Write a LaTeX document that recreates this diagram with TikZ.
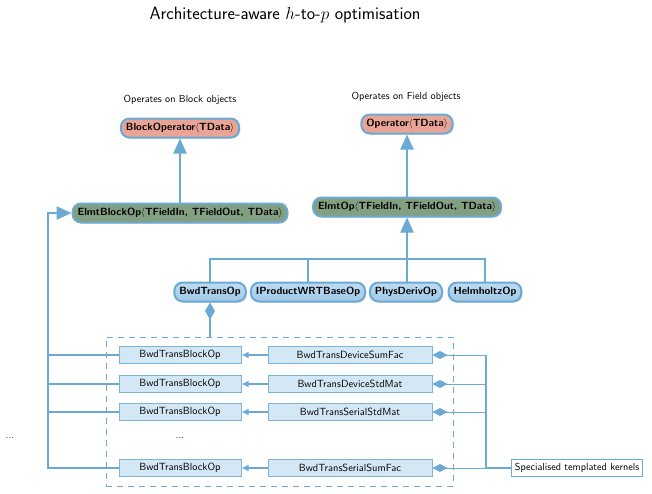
\documentclass[tikz,border=0pt]{standalone}
\usetikzlibrary{arrows.meta,shadows}
\definecolor{lblue}{RGB}{107,170,212}
\definecolor{salm}{RGB}{234,164,150}
\definecolor{grn}{RGB}{131,159,130}
\definecolor{nbluetop}{RGB}{190,220,242}
\definecolor{nbluebot}{RGB}{160,200,230}
\definecolor{bfill}{RGB}{211,231,245}
\definecolor{bdraw}{RGB}{125,180,219}
\tikzset{
  op/.style={draw=lblue, line width=2pt, rounded corners=8.5pt, minimum height=19pt,
    inner xsep=5pt, inner ysep=2pt,
    font=\fontsize{10.4}{12}\selectfont\sffamily\bfseries,
    drop shadow={shadow xshift=1.2pt, shadow yshift=-1.2pt, opacity=0.3}},
  salmop/.style={op, fill=salm},
  grnop/.style={op, fill=grn},
  blueop/.style={op, top color=nbluetop, bottom color=nbluebot},
  blk/.style={draw=bdraw, line width=1pt, fill=bfill, minimum height=17pt,
    inner sep=1pt, font=\fontsize{10.4}{12}\selectfont\sffamily},
  lbl/.style={font=\fontsize{10.2}{12}\selectfont\sffamily},
  inh/.style={draw=lblue, line width=2pt, -{Triangle[width=13pt,length=15pt]}},
  wire/.style={draw=lblue, line width=2pt},
  arr/.style={draw=lblue, line width=1.6pt, -{Latex[width=7pt,length=7pt]}},
  diam/.style={draw=lblue, line width=1pt, {Diamond[width=8pt,length=15pt]}-},
  thin/.style={draw=lblue, line width=1.2pt},
  grp/.style={draw=lblue, line width=1pt, dash pattern=on 6pt off 5pt},
}
\begin{document}
\begin{tikzpicture}[x=1pt,y=-1pt]
\useasboundingbox (0,0) rectangle (652,493);
\fill[white] (0,0) rectangle (652,493);

\node (title) at (285,15) {\fontsize{17.8}{21}\selectfont\sffamily Architecture-aware $h$-to-$p$ optimisation};

\node[lbl] (lblock) at (180,100) {Operates on Block objects};
\node[lbl] (lfield) at (406,97) {Operates on Field objects};

\node[salmop] (bop) at (180,128) {BlockOperator$\langle$TData$\rangle$};
\node[salmop] (fop) at (407,124) {Operator$\langle$TData$\rangle$};
\node[grnop] (eb) at (180,213) {ElmtBlockOp$\langle$TFieldIn, TFieldOut, TData$\rangle$};
\node[grnop] (eo) at (407,207) {ElmtOp$\langle$TFieldIn, TFieldOut, TData$\rangle$};

\node[blueop] (bwd) at (210,292) {BwdTransOp};
\node[blueop] (ipr) at (308,292) {IProductWRTBaseOp};
\node[blueop] (phy) at (406,292) {PhysDerivOp};
\node[blueop] (hel) at (485,292) {HelmholtzOp};

\draw[inh] (eb.north) -- (bop.south);
\draw[inh] (eo.north -| fop) -- (fop.south);
\coordinate (bar) at (407,259);
\draw[inh] (phy.north -| bar) -- (eo.south -| bar);
\draw[wire] (bwd.north) |- (bar) -| (hel.north);
\draw[wire] (ipr.north) -- (ipr.north |- bar);

\node[grp, minimum width=347pt, minimum height=149pt, inner sep=0pt] (box) at (279.5,411.5) {};
\draw[draw=lblue, line width=1.6pt, {Diamond[width=10pt,length=17pt]}-] (bwd.south) -- (bwd.south |- box.north);

\node[blk, minimum width=122pt] (l1) at (180,355) {BwdTransBlockOp};
\node[blk, minimum width=122pt] (l2) at (180,384) {BwdTransBlockOp};
\node[blk, minimum width=122pt] (l3) at (180,412) {BwdTransBlockOp};
\node[blk, minimum width=122pt] (l4) at (180,468) {BwdTransBlockOp};
\node[lbl] (dots1) at (180,438) {...};
\node[lbl] (dots0) at (10,438) {...};

\node[blk, minimum width=164pt] (r1) at (350,355) {BwdTransDeviceSumFac};
\node[blk, minimum width=164pt] (r2) at (350,384) {BwdTransDeviceStdMat};
\node[blk, minimum width=164pt] (r3) at (350,412) {BwdTransSerialStdMat};
\node[blk, minimum width=164pt] (r4) at (350,468) {BwdTransSerialSumFac};

\draw[arr] (r1.west) -- (l1.east);
\draw[arr] (r2.west) -- (l2.east);
\draw[arr] (r3.west) -- (l3.east);
\draw[arr] (r4.west) -- (l4.east);

\node[draw=lblue, line width=1pt, fill=white, minimum height=17pt, inner xsep=3pt, lbl] (kern) at (577,468) {Specialised templated kernels};
\coordinate (kb) at (486,468);
\draw[diam] (r1.east) -- (r1.east -| kb);
\draw[diam] (r2.east) -- (r2.east -| kb);
\draw[diam] (r3.east) -- (r3.east -| kb);
\draw[diam] (r4.east) -- (kb);
\draw[thin] (r1.east -| kb) -- (kb) -- (kern.west);

\coordinate (lbtop) at (48,213);
\draw[inh] (l4.west) -| (lbtop) -- (eb.west);
\draw[wire] (l1.west) -- (l1.west -| lbtop);
\draw[wire] (l2.west) -- (l2.west -| lbtop);
\draw[wire] (l3.west) -- (l3.west -| lbtop);
\end{tikzpicture}
\end{document}
